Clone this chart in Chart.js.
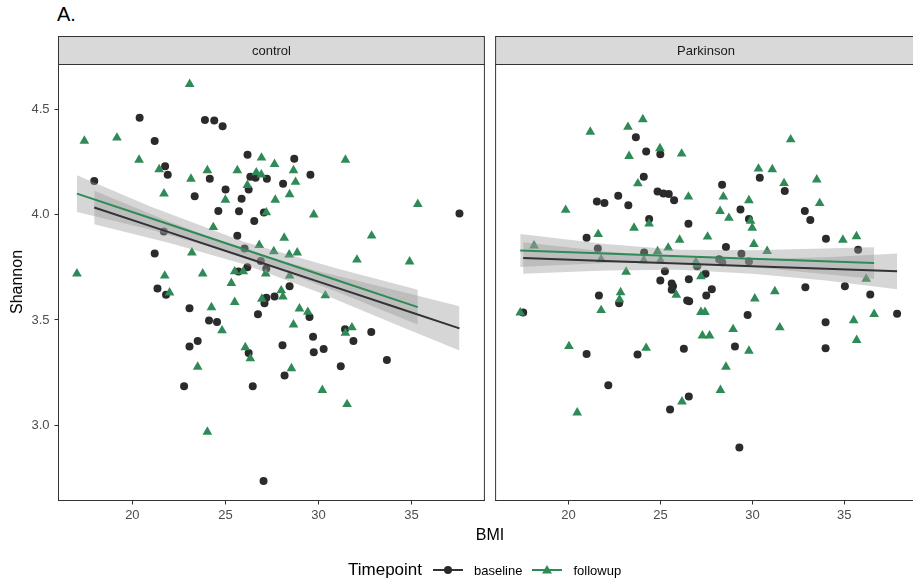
<!DOCTYPE html>
<html>
<head>
<meta charset="utf-8">
<script src="https://cdn.jsdelivr.net/npm/chart.js@4.4.1/dist/chart.umd.min.js"></script>
<style>
  html, body { margin: 0; padding: 0; background: #fff; width: 913px; height: 582px; overflow: hidden;
    font-family: "Liberation Sans", Arial, Helvetica, sans-serif; }
  canvas { position: absolute; top: 0; }
  #title { position: absolute; left: 57px; top: 3px; font-size: 20px; color: #000; }
  #ylab { position: absolute; left: 17px; top: 282px; font-size: 16px; color: #000;
    transform: translate(-50%, -50%) rotate(-90deg); white-space: nowrap; }
  #xlab { position: absolute; left: 490px; top: 535px; font-size: 16px; color: #000;
    transform: translate(-50%, -50%); white-space: nowrap; }
  #legend { position: absolute; left: 348px; top: 559px; height: 22px; display: flex; align-items: center;
    font-size: 13px; color: #000; white-space: nowrap; }
  #legend .lt { font-size: 17px; margin-right: 10px; }
  #legend svg { display: block; margin-right: 8px; }
  #legend .item { margin-right: 9px; }
</style>
</head>
<body>
<div id="title">A.</div>
<canvas id="cControl" width="490" height="582" style="left:0"></canvas>
<canvas id="cPark" width="432" height="582" style="left:490px"></canvas>
<div id="ylab">Shannon</div>
<div id="xlab">BMI</div>
<div id="legend">
  <span class="lt">Timepoint</span>
  <svg width="34" height="16"><line x1="1" y1="8" x2="31" y2="8" stroke="#333" stroke-width="2"/><circle cx="16" cy="8" r="4" fill="#2b2b2b"/></svg>
  <span class="item">baseline</span>
  <svg width="34" height="16"><line x1="1" y1="8" x2="31" y2="8" stroke="#2e8b57" stroke-width="2"/><polygon points="16,3 21,11.5 11,11.5" fill="#2e8b57"/></svg>
  <span class="item">followup</span>
</div>
<script>
// Facet labels and shared axis ticks
const facets = ["control", "Parkinson"];
const bmiTicks = [20, 25, 30, 35];
const shannonTicks = [3.0, 3.5, 4.0, 4.5];

// [BMI, Shannon] per subject
const controlBaseline = [
  [20.39,4.46],[23.9,4.45],[24.4,4.447],[24.85,4.42],[21.2,4.35],[26.19,4.285],[21.76,4.23],[21.9,4.19],
  [24.16,4.17],[26.34,4.18],[26.62,4.175],[27.23,4.17],[25.01,4.12],[26.25,4.12],[23.35,4.087],[25.87,4.076],
  [24.62,4.017],[25.73,4.016],[26.55,3.97],[17.95,4.16],[21.69,3.92],[25.64,3.90],[26.03,3.84],[21.2,3.816],
  [26.18,3.75],[25.7,3.73],[26.9,3.78],[27.2,3.745],[28.7,4.265],[29.57,4.19],[28.1,4.147],[27.07,4.01],
  [37.58,4.006],[21.35,3.65],[21.81,3.62],[23.07,3.556],[27.2,3.606],[27.1,3.58],[26.75,3.527],[24.12,3.497],
  [24.55,3.49],[23.51,3.40],[23.07,3.374],[26.25,3.343],[22.78,3.185],[26.47,3.185],[27.05,2.736],[27.64,3.612],
  [28.45,3.66],[29.52,3.514],[29.71,3.42],[28.07,3.38],[29.75,3.347],[30.28,3.362],[31.43,3.456],[31.88,3.40],
  [32.84,3.443],[33.68,3.31],[31.2,3.28],[28.18,3.236]
];
const controlFollowup = [
  [23.08,4.62],[17.42,4.35],[19.17,4.365],[20.36,4.26],[21.44,4.215],[21.7,4.10],[23.15,4.17],[24.03,4.21],
  [25.64,4.21],[26.94,4.27],[26.66,4.20],[26.93,4.19],[26.18,4.14],[25.0,4.07],[27.2,4.01],[24.35,3.94],
  [17.02,3.72],[21.74,3.71],[23.78,3.72],[25.5,3.73],[25.96,3.73],[23.2,3.82],[26.82,3.855],[27.17,3.72],
  [27.64,4.24],[31.45,4.26],[28.66,4.21],[28.77,4.155],[28.45,4.096],[27.68,4.07],[29.75,4.0],[35.34,4.05],
  [28.16,3.89],[32.86,3.90],[27.6,3.826],[28.43,3.81],[28.86,3.82],[32.07,3.786],[34.9,3.777],[28.45,3.71],
  [25.32,3.675],[22.0,3.63],[25.5,3.585],[24.25,3.56],[26.96,3.60],[24.82,3.45],[26.07,3.37],[26.34,3.317],
  [23.51,3.277],[24.03,2.969],[28.0,3.64],[28.09,3.61],[30.37,3.616],[28.98,3.554],[29.43,3.538],[28.66,3.478],
  [31.8,3.464],[31.45,3.438],[28.55,3.27],[30.21,3.167],[31.54,3.10]
];
const parkinsonBaseline = [
  [23.66,4.368],[24.22,4.30],[24.99,4.287],[24.09,4.18],[24.84,4.11],[25.16,4.10],[25.45,4.098],[25.74,4.068],
  [21.54,4.063],[21.95,4.055],[22.7,4.09],[23.25,4.045],[24.38,3.98],[26.52,3.957],[20.98,3.89],[21.59,3.84],
  [24.11,3.82],[25.24,3.731],[24.99,3.688],[26.54,3.693],[26.99,3.755],[28.35,4.142],[30.4,4.175],[31.76,4.112],
  [29.35,4.025],[29.81,3.98],[32.85,4.017],[33.15,3.975],[34.0,3.886],[28.56,3.846],[29.4,3.815],[28.19,3.788],
  [28.36,3.774],[29.81,3.778],[35.75,3.833],[27.45,3.72],[25.61,3.673],[25.68,3.66],[25.61,3.644],[21.65,3.616],
  [22.75,3.58],[17.53,3.535],[26.45,3.592],[26.56,3.589],[20.98,3.339],[23.75,3.336],[26.27,3.363],[22.16,3.19],
  [26.54,3.137],[25.52,3.075],[27.79,3.646],[27.49,3.616],[32.88,3.655],[35.03,3.66],[36.41,3.621],[29.74,3.524],
  [33.98,3.489],[37.87,3.53],[29.05,3.374],[33.98,3.366],[29.29,2.895]
];
const parkinsonFollowup = [
  [24.04,4.452],[23.23,4.416],[21.18,4.393],[24.97,4.315],[23.29,4.278],[26.15,4.289],[23.77,4.148],[26.52,4.085],
  [19.84,4.022],[23.56,3.937],[24.38,3.957],[21.61,3.907],[26.04,3.88],[25.42,3.843],[18.12,3.853],[21.77,3.788],
  [24.09,3.783],[24.84,3.826],[25.0,3.783],[23.13,3.728],[26.92,3.775],[32.08,4.357],[30.33,4.218],[31.08,4.215],
  [31.72,4.149],[33.5,4.166],[28.42,4.085],[29.81,4.068],[28.24,4.017],[28.72,3.984],[33.66,4.054],[29.9,3.97],
  [29.99,3.937],[27.56,3.895],[30.08,3.86],[34.92,3.88],[35.66,3.897],[30.8,3.827],[26.99,3.764],[36.19,3.695],
  [27.2,3.707],[22.83,3.631],[22.77,3.597],[21.77,3.546],[25.86,3.619],[17.37,3.535],[20.02,3.375],[24.22,3.367],
  [20.47,3.06],[26.17,3.112],[30.13,3.601],[31.22,3.636],[27.2,3.537],[27.42,3.537],[28.95,3.456],[31.49,3.464],
  [27.28,3.426],[27.67,3.426],[29.81,3.353],[28.56,3.277],[28.26,3.167],[35.51,3.498],[36.62,3.528],[35.67,3.404]
];

// Linear fits with 95% confidence band (BMI, fitted, lower, upper)
const controlBaselineFitBMI = [17.95, 22, 26, 30, 34, 37.58];
const controlBaselineFit    = [4.034, 3.916, 3.799, 3.682, 3.565, 3.460];
const controlBaselineLow    = [3.954, 3.866, 3.765, 3.632, 3.485, 3.355];
const controlBaselineHigh   = [4.114, 3.966, 3.833, 3.732, 3.645, 3.565];

const controlFollowupFitBMI = [17.02, 21, 26, 31, 35.34];
const controlFollowupFit    = [4.100, 3.983, 3.836, 3.689, 3.561];
const controlFollowupLow    = [4.013, 3.928, 3.800, 3.634, 3.478];
const controlFollowupHigh   = [4.187, 4.038, 3.872, 3.744, 3.644];

const parkinsonBaselineFitBMI = [17.53, 22, 26, 30, 34, 37.87];
const parkinsonBaselineFit    = [3.794, 3.780, 3.768, 3.755, 3.743, 3.731];
const parkinsonBaselineLow    = [3.719, 3.735, 3.738, 3.720, 3.688, 3.646];
const parkinsonBaselineHigh   = [3.869, 3.825, 3.798, 3.790, 3.798, 3.816];

const parkinsonFollowupFitBMI = [17.37, 22, 26, 30, 36.62];
const parkinsonFollowupFit    = [3.830, 3.816, 3.803, 3.791, 3.770];
const parkinsonFollowupLow    = [3.752, 3.771, 3.773, 3.751, 3.695];
const parkinsonFollowupHigh   = [3.908, 3.861, 3.833, 3.831, 3.845];

const BASE_COLOR = "#2b2b2b";
const BASE_LINE = "#333333";
const FOLLOW_COLOR = "#2e8b57";
const BAND_FILL = "rgba(153,153,153,0.4)";
const FONT = "'Liberation Sans', Arial, Helvetica, sans-serif";

const X_MIN = 16.03, X_MAX = 38.92;
const Y_MIN = 2.643, Y_MAX = 4.713;

const toXY = pairs => pairs.map(p => ({ x: p[0], y: p[1] }));
const zipXY = (xs, ys) => xs.map((x, i) => ({ x: x, y: ys[i] }));

function buildDatasets(base, follow, bFit, fFit) {
  return [
    { data: toXY(base), showLine: false, pointStyle: "circle", pointRadius: 4,
      pointBackgroundColor: BASE_COLOR, pointBorderWidth: 0, order: 4 },
    { data: toXY(follow), showLine: false, pointStyle: "triangle", pointRadius: 5.6,
      pointBackgroundColor: FOLLOW_COLOR, pointBorderWidth: 0, order: 3 },
    { data: zipXY(bFit.bmi, bFit.low), borderWidth: 0, pointRadius: 0, fill: false, order: 2 },
    { data: zipXY(bFit.bmi, bFit.high), borderWidth: 0, pointRadius: 0, fill: "-1",
      backgroundColor: BAND_FILL, order: 2 },
    { data: zipXY(fFit.bmi, fFit.low), borderWidth: 0, pointRadius: 0, fill: false, order: 2 },
    { data: zipXY(fFit.bmi, fFit.high), borderWidth: 0, pointRadius: 0, fill: "-1",
      backgroundColor: BAND_FILL, order: 2 },
    { data: zipXY(bFit.bmi, bFit.fit), borderColor: BASE_LINE, borderWidth: 2, pointRadius: 0,
      fill: false, order: 1 },
    { data: zipXY(fFit.bmi, fFit.fit), borderColor: FOLLOW_COLOR, borderWidth: 2, pointRadius: 0,
      fill: false, order: 1 }
  ];
}

// Panel border and facet strip on top of each panel
const facetStrip = {
  id: "facetStrip",
  afterDraw(chart, args, opts) {
    const a = chart.chartArea, ctx = chart.ctx;
    ctx.save();
    const sTop = 36.5, sBottom = a.top;
    ctx.fillStyle = "#d9d9d9";
    ctx.fillRect(a.left, sTop, a.right - a.left, sBottom - sTop);
    ctx.strokeStyle = "#333333";
    ctx.lineWidth = 1;
    ctx.strokeRect(a.left, sTop, a.right - a.left, sBottom - sTop);
    ctx.fillStyle = "#1a1a1a";
    ctx.font = "13px " + FONT;
    ctx.textAlign = "center";
    ctx.textBaseline = "middle";
    ctx.fillText(opts.label, (a.left + a.right) / 2, (sTop + sBottom) / 2 + 0.5);
    ctx.strokeStyle = "#333333";
    ctx.lineWidth = 1;
    ctx.strokeRect(a.left, a.top, a.right - a.left, a.bottom - a.top);
    ctx.restore();
  }
};

function makeChart(id, facetLabel, datasets, showY, padLeft, padRight) {
  return new Chart(document.getElementById(id), {
    type: "line",
    data: { datasets: datasets },
    options: {
      responsive: false, animation: false, devicePixelRatio: 1,
      layout: { padding: { top: 64.5, right: padRight, left: padLeft, bottom: 0 } },
      plugins: { legend: { display: false }, tooltip: { enabled: false },
        facetStrip: { label: facetLabel } },
      scales: {
        x: {
          type: "linear", min: X_MIN, max: X_MAX,
          afterBuildTicks: s => { s.ticks = bmiTicks.map(v => ({ value: v })); },
          afterFit: s => { s.height = 81.5; },
          grid: { display: true, drawOnChartArea: false, drawTicks: true, tickLength: 4,
            color: "#333333", lineWidth: 1 },
          border: { display: true, color: "#333333", width: 1 },
          ticks: { color: "#4d4d4d", padding: 3, font: { family: FONT, size: 13 },
            callback: v => String(v), maxRotation: 0, autoSkip: false }
        },
        y: {
          type: "linear", min: Y_MIN, max: Y_MAX, display: showY,
          afterBuildTicks: s => { s.ticks = shannonTicks.map(v => ({ value: v })); },
          afterFit: s => { s.width = showY ? 58.5 : 0; },
          grid: { display: true, drawOnChartArea: false, drawTicks: true, tickLength: 4,
            color: "#333333", lineWidth: 1 },
          border: { display: true, color: "#333333", width: 1 },
          ticks: { color: "#4d4d4d", padding: 5, font: { family: FONT, size: 13 },
            callback: v => v.toFixed(1), autoSkip: false }
        }
      }
    },
    plugins: [facetStrip]
  });
}

makeChart("cControl", facets[0],
  buildDatasets(controlBaseline, controlFollowup,
    { bmi: controlBaselineFitBMI, fit: controlBaselineFit, low: controlBaselineLow, high: controlBaselineHigh },
    { bmi: controlFollowupFitBMI, fit: controlFollowupFit, low: controlFollowupLow, high: controlFollowupHigh }),
  true, 0, 4.5);

makeChart("cPark", facets[1],
  buildDatasets(parkinsonBaseline, parkinsonFollowup,
    { bmi: parkinsonBaselineFitBMI, fit: parkinsonBaselineFit, low: parkinsonBaselineLow, high: parkinsonBaselineHigh },
    { bmi: parkinsonFollowupFitBMI, fit: parkinsonFollowupFit, low: parkinsonFollowupLow, high: parkinsonFollowupHigh }),
  false, 5, 0);
</script>
</body>
</html>
